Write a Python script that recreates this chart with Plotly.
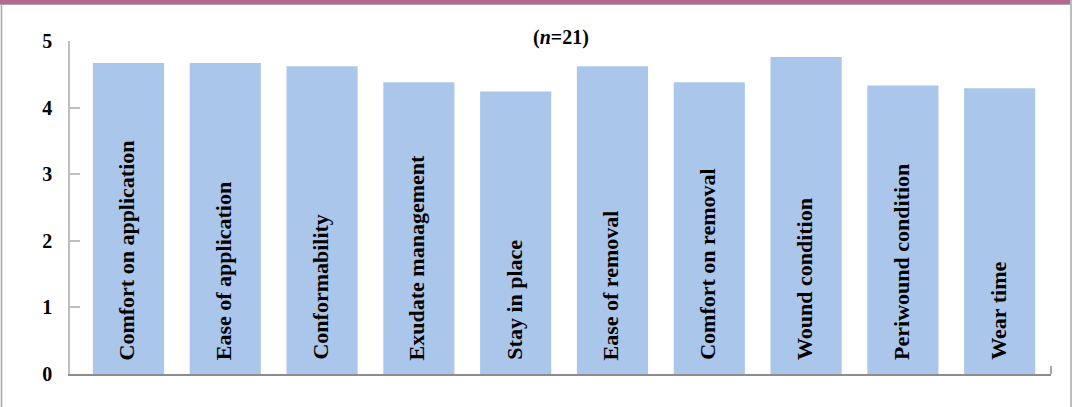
import plotly.graph_objects as go

# Mean ratings per dressing attribute (n = 21)
categories = [
    "Comfort on application", "Ease of application", "Conformability",
    "Exudate management", "Stay in place", "Ease of removal",
    "Comfort on removal", "Wound condition", "Periwound condition", "Wear time",
]
scores = [4.67, 4.67, 4.62, 4.38, 4.24, 4.62, 4.38, 4.76, 4.33, 4.29]
y_ticks = [0, 1, 2, 3, 4, 5]

W, H = 1078, 407
L, R, T, B = 70, 27, 41, 33
pw, ph = W - L - R, H - T - B

def px_x(px):
    return (px - L) / pw

def px_y(py):
    return (H - B - py) / ph

FONT = "Liberation Serif"

fig = go.Figure(
    go.Bar(
        x=list(range(len(categories))),
        y=scores,
        customdata=categories,
        marker=dict(color="#AAC6EA", line=dict(width=0)),
        width=0.735,
        hovertemplate="%{customdata}: %{y}<extra></extra>",
    )
)

# Category names written up the inside of each bar
for i, cat in enumerate(categories):
    fig.add_annotation(
        x=i, y=0, xref="x", yref="y",
        text=f"<b>{cat}</b>", textangle=-90,
        showarrow=False, xanchor="center", yanchor="bottom",
        yshift=12, xshift=-2,
        font=dict(family=FONT, size=22, color="#000000"),
    )

# Sample size caption
fig.add_annotation(
    x=0.5, y=px_y(37), xref="paper", yref="paper",
    text="<b>(<i>n</i>=21)</b>", showarrow=False,
    xanchor="center", yanchor="middle",
    font=dict(family=FONT, size=20, color="#000000"),
)

shapes = [
    # header band
    dict(type="rect", xref="paper", yref="paper",
         x0=px_x(0), x1=px_x(1071), y0=px_y(0), y1=px_y(4),
         fillcolor="#B6698F", line=dict(width=0), layer="below"),
    dict(type="line", xref="paper", yref="paper",
         x0=px_x(0), x1=px_x(1071), y0=px_y(4.5), y1=px_y(4.5),
         line=dict(color="#A8A8A8", width=1)),
    # frame sides
    dict(type="line", xref="paper", yref="paper",
         x0=px_x(1.5), x1=px_x(1.5), y0=px_y(5), y1=px_y(407),
         line=dict(color="#A8A8A8", width=1.5)),
    dict(type="line", xref="paper", yref="paper",
         x0=px_x(1071), x1=px_x(1071), y0=px_y(0), y1=px_y(407),
         line=dict(color="#BDBDBD", width=2)),
    # end tick of the category axis
    dict(type="line", xref="paper", yref="paper",
         x0=1, x1=1, y0=0, y1=px_y(366),
         line=dict(color="#8C8C8C", width=1.5)),
]

fig.update_layout(
    width=W, height=H,
    margin=dict(l=L, r=R, t=T, b=B),
    paper_bgcolor="#FFFFFF", plot_bgcolor="#FFFFFF",
    showlegend=False,
    shapes=shapes,
    xaxis=dict(
        showticklabels=False, ticks="", showgrid=False, zeroline=False,
        showline=True, linecolor="#8C8C8C", linewidth=2,
        range=[-0.604, 9.53],
    ),
    yaxis=dict(
        range=[0, 5], tickvals=y_ticks, ticktext=[str(v) for v in y_ticks],
        ticks="inside", ticklen=10, tickcolor="#BFBFBF", tickwidth=1.5,
        showline=True, linecolor="#BFBFBF", linewidth=1.5,
        showgrid=False, zeroline=False,
        ticklabelstandoff=12,
        tickfont=dict(family=FONT, size=20, color="#000000", weight="bold"),
    ),
)

fig.write_html("out.html")
